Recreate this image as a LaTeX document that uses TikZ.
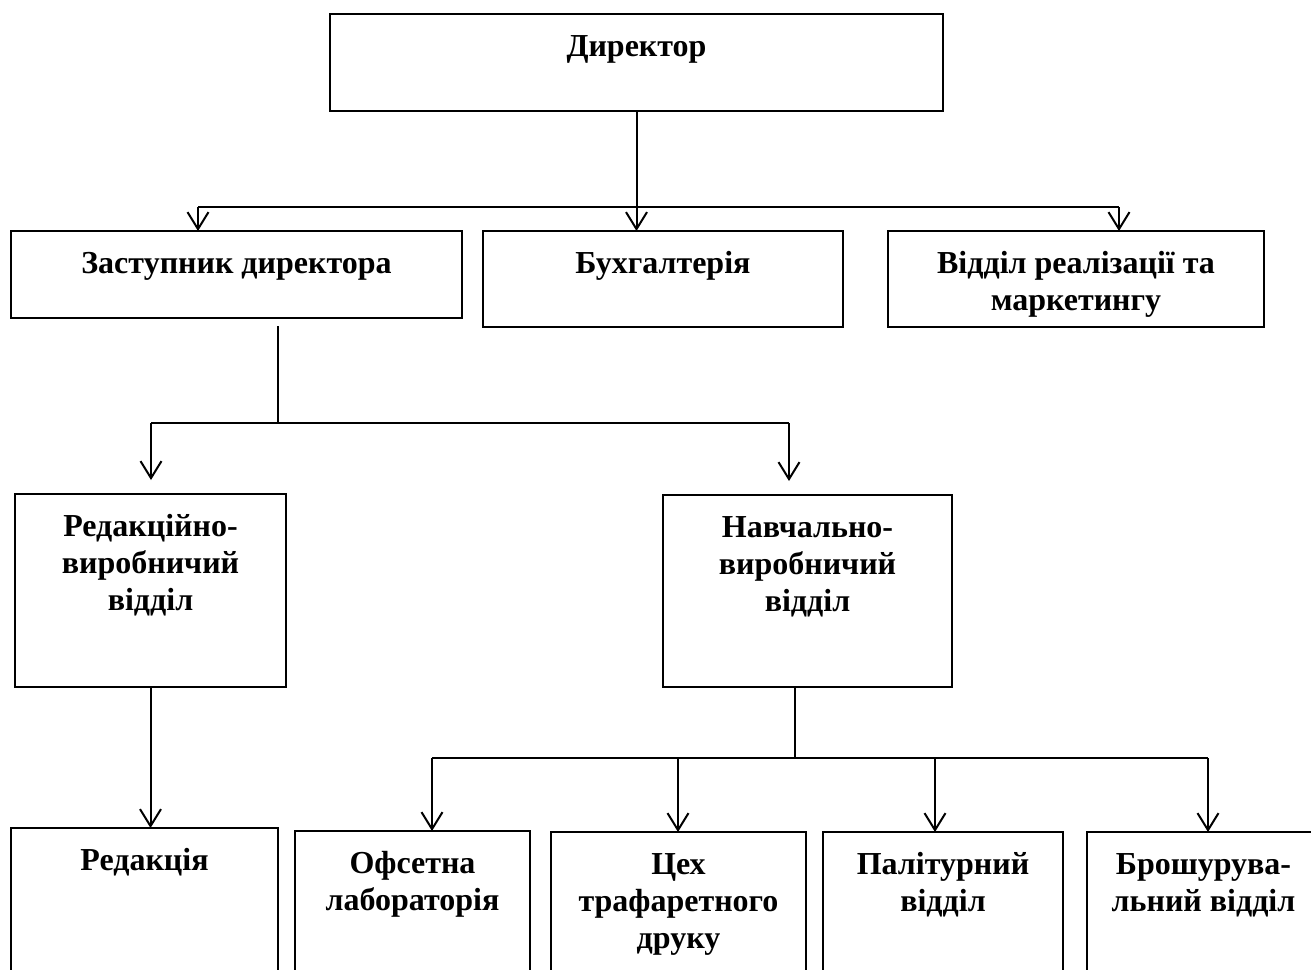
\documentclass[tikz,border=0pt]{standalone}
\usepackage{fontspec}
\setmainfont{Liberation Serif}
\usetikzlibrary{arrows.meta,calc}
% fixed height of the first text line, so every label starts at the same depth
\newcommand\toprow{\rule{0pt}{28pt}}
\begin{document}
\begin{tikzpicture}[x=1pt,y=-1pt,
  box/.style={draw, line width=2.6pt, rectangle, anchor=north west,
    inner sep=0pt, outer sep=0pt},
  txt/.style={anchor=north, inner sep=0pt, align=center,
    font=\bfseries\fontsize{32}{37}\selectfont},
  link/.style={line width=2pt},
  arr/.style={link, -{Straight Barb[length=17pt,width=21pt]}}]

\useasboundingbox (0,0) rectangle (1311,969);
\clip (0,0) rectangle (1311,969);

% boxes
\node[box, minimum width=613pt, minimum height=97pt] (dir) at (330,14) {};
\node[box, minimum width=451pt, minimum height=87pt] (dep) at (11,231) {};
\node[box, minimum width=360pt, minimum height=96pt] (acc) at (483,231) {};
\node[box, minimum width=376pt, minimum height=96pt] (sales) at (888,231) {};
\node[box, minimum width=271pt, minimum height=193pt] (edprod) at (15,494) {};
\node[box, minimum width=289pt, minimum height=192pt] (eduprod) at (663,495) {};
\node[box, minimum width=267pt, minimum height=180pt] (red) at (11,828) {};
\node[box, minimum width=235pt, minimum height=180pt] (offs) at (295,831) {};
\node[box, minimum width=255pt, minimum height=180pt] (scr) at (551,832) {};
\node[box, minimum width=240pt, minimum height=180pt] (bind) at (823,832) {};
\node[box, minimum width=233pt, minimum height=180pt] (brosh) at (1087,832) {};

% labels
\node[txt] (dir-t) at ([yshift=-14pt]dir.north) {\toprow Директор};
\node[txt] (dep-t) at ([yshift=-14pt]dep.north) {\toprow Заступник директора};
\node[txt] (acc-t) at ([yshift=-14pt]acc.north) {\toprow Бухгалтерія};
\node[txt] (sales-t) at ([yshift=-14pt]sales.north) {\toprow Відділ реалізації та\\маркетингу};
\node[txt] (edprod-t) at ([yshift=-14pt]edprod.north) {\toprow Редакційно-\\виробничий\\відділ};
\node[txt] (eduprod-t) at ([yshift=-14pt]eduprod.north) {\toprow Навчально-\\виробничий\\відділ};
\node[txt] (red-t) at ([yshift=-14pt]red.north) {\toprow Редакція};
\node[txt] (offs-t) at ([yshift=-14pt]offs.north) {\toprow Офсетна\\лабораторія};
\node[txt] (scr-t) at ([yshift=-14pt]scr.north) {\toprow Цех\\трафаретного\\друку};
\node[txt] (bind-t) at ([yshift=-14pt]bind.north) {\toprow Палітурний\\відділ};
\node[txt] (brosh-t) at ([yshift=-14pt]brosh.north) {\toprow Брошурува-\\льний відділ};

% director -> first level
\coordinate (b1L) at (198,207);
\coordinate (b1R) at (1119,207);
\coordinate (b1M) at (dir.south |- b1L);
\draw[link] (dir.south) -- (b1M);
\draw[link] (b1L) -- (b1R);
\draw[arr] (b1L) -- (b1L |- dep.north);
\draw[arr] (b1M) -- (b1M |- acc.north);
\draw[arr] (b1R) -- (b1R |- sales.north);

% deputy -> departments
\coordinate (b2L) at (151,423);
\coordinate (b2R) at (789,423);
\coordinate (b2M) at (278,423);
\draw[link, shorten <=8pt] (b2M |- dep.south) -- (b2M);
\draw[link] (b2L) -- (b2R);
\draw[arr, shorten >=14pt] (b2L) -- (b2L |- edprod.north);
\draw[arr, shorten >=14pt] (b2R) -- (b2R |- eduprod.north);

% editorial department -> editorial office
\draw[arr] (edprod.south) -- (edprod.south |- red.north);

% training department -> workshops
\coordinate (b3a) at (432,758);
\coordinate (b3b) at (678,758);
\coordinate (b3c) at (935,758);
\coordinate (b3d) at (1208,758);
\coordinate (b3M) at (795,758);
\draw[link] (b3M |- eduprod.south) -- (b3M);
\draw[link] (b3a) -- (b3d);
\draw[arr] (b3a) -- (b3a |- offs.north);
\draw[arr] (b3b) -- (b3b |- scr.north);
\draw[arr] (b3c) -- (b3c |- bind.north);
\draw[arr] (b3d) -- (b3d |- brosh.north);

\end{tikzpicture}
\end{document}
